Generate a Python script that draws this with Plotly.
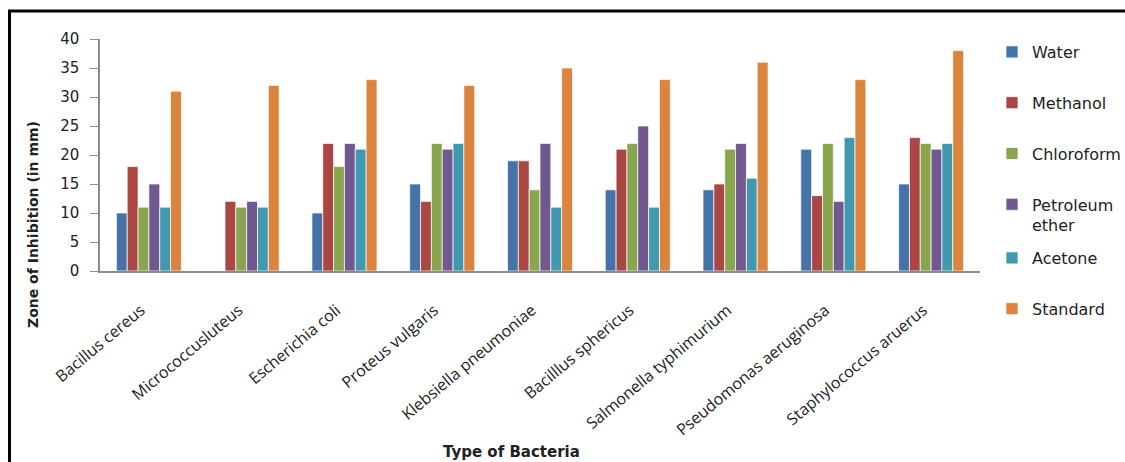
import plotly.graph_objects as go

# Zone of inhibition (mm) per bacterium for each extract and the standard
bacteria = [
    "Bacillus cereus", "Micrococcusluteus", "Escherichia coli", "Proteus vulgaris",
    "Klebsiella pneumoniae", "Bacilllus sphericus", "Salmonella typhimurium",
    "Pseudomonas aeruginosa", "Staphylococcus aruerus",
]
water = [10, 0, 10, 15, 19, 14, 14, 21, 15]
methanol = [18, 12, 22, 12, 19, 21, 15, 13, 23]
chloroform = [11, 11, 18, 22, 14, 22, 21, 22, 22]
petroleum_ether = [15, 12, 22, 21, 22, 25, 22, 12, 21]
acetone = [11, 11, 21, 22, 11, 11, 16, 23, 22]
standard = [31, 32, 33, 32, 35, 33, 36, 33, 38]

series_names = ["Water", "Methanol", "Chloroform", "Petroleum<br>ether", "Acetone", "Standard"]
series_values = [water, methanol, chloroform, petroleum_ether, acetone, standard]
colors = ["#4572A7", "#AA4643", "#89A54E", "#71588F", "#4198AF", "#DB843D"]
# the two-line entry breaks the even spacing, so the last two entries get their own legend box
legend_ids = ["legend", "legend", "legend", "legend", "legend2", "legend2"]

W, H = 1125, 462
L, R, T, B = 100, 145, 39, 191
pw, ph = W - L - R, H - T - B


def px_x(x):
    return (x - L) / pw


def px_y(y):
    return (H - B - y) / ph


fig = go.Figure()
for i, (name, vals, col, lg) in enumerate(zip(series_names, series_values, colors, legend_ids)):
    fig.add_trace(go.Bar(
        x=bacteria, y=vals, name=name, legendgroup=str(i), legend=lg,
        marker=dict(color=col, line=dict(color="rgba(255,255,255,0.7)", width=1)),
    ))

legend_style = dict(
    xanchor="left", yanchor="top",
    font=dict(family="DejaVu Sans", size=16, color="#222"),
    tracegroupgap=27, itemwidth=30, traceorder="grouped", valign="top",
    bgcolor="rgba(0,0,0,0)", maxheight=420,
)

fig.update_layout(
    width=W, height=H,
    margin=dict(l=L, r=R, t=T, b=B, autoexpand=False),
    paper_bgcolor="white", plot_bgcolor="white",
    barmode="group", bargap=0.335, bargroupgap=0,
    font=dict(family="DejaVu Sans", color="#222"),
    showlegend=True,
    legend=dict(x=px_x(992), y=px_y(35), **legend_style),
    legend2=dict(x=px_x(992), y=px_y(241), **legend_style),
    xaxis=dict(
        showline=True, linecolor="#8c8c8c", linewidth=1.5,
        ticks="", tickangle=-40,
        ticklabelstandoff=22, ticklabelshift=-8,
        tickfont=dict(family="Open Sans", size=16, color="#222"),
        showgrid=False, automargin=False,
    ),
    yaxis=dict(
        range=[0, 40], dtick=5, tick0=0,
        showline=True, linecolor="#8c8c8c", linewidth=1.5,
        ticks="outside", ticklen=8, tickcolor="#8c8c8c",
        ticklabelstandoff=8,
        tickfont=dict(family="DejaVu Sans", size=15, color="#222"),
        showgrid=False, zeroline=False, automargin=False,
    ),
    annotations=[
        dict(text="<b>Zone of Inhibition (in mm)</b>", textangle=-90,
             xref="paper", yref="paper", x=px_x(33), y=px_y(225),
             xanchor="center", yanchor="middle", showarrow=False,
             font=dict(family="DejaVu Sans", size=14, color="#222")),
        dict(text="<b>Type of Bacteria</b>",
             xref="paper", yref="paper", x=px_x(511), y=px_y(452),
             xanchor="center", yanchor="middle", showarrow=False,
             font=dict(family="DejaVu Sans", size=15, color="#222")),
    ],
    shapes=[
        dict(type="rect", xref="paper", yref="paper", layer="above",
             x0=px_x(9.5), x1=px_x(W + 20), y0=px_y(H + 20), y1=px_y(11),
             line=dict(color="black", width=3), fillcolor="rgba(0,0,0,0)"),
    ],
)

fig.write_html("out.html")
